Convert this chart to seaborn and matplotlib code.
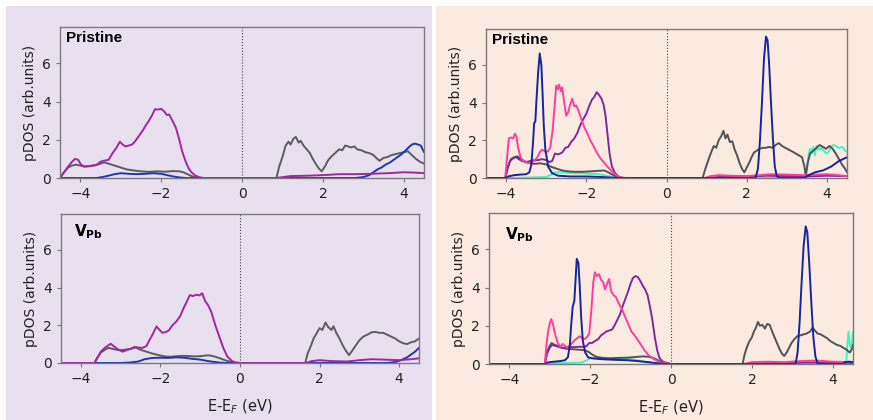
import numpy as np
import matplotlib.pyplot as plt
from matplotlib.patches import Rectangle
import seaborn as sns

# ---- data: (energy eV, pDOS) ----
# left panel, pristine
lt_gray = [(-4.5,0),(-4.4,0.3),(-4.3,0.55),(-4.2,0.65),(-4.1,0.7),(-4.0,0.65),(-3.9,0.6),(-3.75,0.62),(-3.6,0.68),(-3.5,0.75),(-3.4,0.82),(-3.3,0.75),(-3.15,0.65),(-3.0,0.55),(-2.85,0.45),(-2.7,0.4),(-2.5,0.35),(-2.3,0.32),(-2.1,0.35),(-1.9,0.33),(-1.7,0.36),(-1.55,0.35),(-1.45,0.3),(-1.35,0.2),(-1.25,0.1),(-1.15,0.03),(-1.05,0),(0.85,0),(0.92,0.6),(1.0,1.1),(1.08,1.7),(1.15,1.9),(1.2,1.75),(1.27,2.05),(1.33,2.15),(1.4,1.85),(1.45,1.95),(1.52,1.7),(1.6,1.5),(1.68,1.3),(1.75,1.0),(1.82,0.75),(1.9,0.5),(1.97,0.35),(2.05,0.6),(2.12,0.9),(2.2,1.1),(2.3,1.3),(2.4,1.5),(2.48,1.45),(2.55,1.7),(2.62,1.65),(2.7,1.6),(2.78,1.65),(2.85,1.5),(2.95,1.45),(3.05,1.35),(3.15,1.3),(3.25,1.2),(3.32,1.05),(3.4,0.9),(3.5,1.05),(3.6,1.1),(3.7,1.2),(3.8,1.25),(3.9,1.3),(4.0,1.35),(4.1,1.4),(4.2,1.2),(4.3,1.0),(4.4,0.85),(4.5,0.75)]
lt_blue = [(-4.5,0),(-3.6,0),(-3.45,0.05),(-3.3,0.12),(-3.15,0.2),(-3.0,0.25),(-2.8,0.22),(-2.6,0.2),(-2.4,0.22),(-2.2,0.25),(-2.0,0.22),(-1.85,0.15),(-1.7,0.08),(-1.55,0.03),(-1.4,0),(2.8,0),(3.0,0.05),(3.15,0.15),(3.25,0.3),(3.35,0.45),(3.45,0.55),(3.55,0.7),(3.65,0.8),(3.75,0.95),(3.85,1.1),(3.95,1.25),(4.05,1.45),(4.12,1.6),(4.2,1.75),(4.28,1.8),(4.35,1.75),(4.42,1.7),(4.5,1.35)]
lt_magenta = [(-4.5,0),(-4.4,0.3),(-4.3,0.6),(-4.2,0.85),(-4.13,1.0),(-4.05,0.95),(-3.98,0.7),(-3.9,0.6),(-3.8,0.62),(-3.7,0.65),(-3.6,0.68),(-3.5,0.85),(-3.42,0.9),(-3.3,0.95),(-3.2,1.3),(-3.1,1.6),(-3.02,1.9),(-2.95,1.75),(-2.88,1.65),(-2.8,1.7),(-2.72,1.75),(-2.65,1.9),(-2.55,2.2),(-2.45,2.5),(-2.38,2.75),(-2.3,3.0),(-2.22,3.3),(-2.15,3.6),(-2.08,3.58),(-2.0,3.62),(-1.93,3.5),(-1.86,3.3),(-1.8,3.32),(-1.72,3.0),(-1.63,2.6),(-1.55,2.0),(-1.48,1.4),(-1.4,0.9),(-1.32,0.5),(-1.25,0.3),(-1.15,0.12),(-1.05,0.04),(-0.95,0),(0.85,0),(1.2,0.1),(1.6,0.12),(2.0,0.15),(2.4,0.2),(2.8,0.2),(3.2,0.22),(3.6,0.25),(4.0,0.3),(4.3,0.28),(4.5,0.25)]

# left panel, V_Pb
lb_gray = [(-4.5,0),(-3.66,0),(-3.58,0.3),(-3.5,0.55),(-3.4,0.7),(-3.3,0.8),(-3.2,0.75),(-3.05,0.68),(-2.9,0.7),(-2.75,0.75),(-2.62,0.82),(-2.5,0.7),(-2.35,0.6),(-2.2,0.5),(-2.05,0.42),(-1.9,0.35),(-1.75,0.33),(-1.6,0.36),(-1.45,0.38),(-1.3,0.37),(-1.15,0.35),(-1.0,0.36),(-0.85,0.4),(-0.75,0.4),(-0.62,0.33),(-0.5,0.25),(-0.38,0.15),(-0.25,0.07),(-0.12,0.02),(0,0),(1.64,0),(1.7,0.5),(1.78,0.9),(1.85,1.3),(1.92,1.55),(2.0,1.85),(2.07,1.75),(2.15,2.15),(2.22,1.9),(2.3,1.75),(2.35,1.95),(2.42,1.6),(2.5,1.3),(2.58,0.95),(2.66,0.65),(2.74,0.42),(2.82,0.65),(2.9,0.9),(3.0,1.2),(3.1,1.4),(3.2,1.5),(3.3,1.62),(3.4,1.65),(3.5,1.6),(3.6,1.6),(3.7,1.5),(3.8,1.4),(3.9,1.3),(4.0,1.15),(4.1,1.05),(4.2,1.0),(4.3,1.1),(4.4,1.15),(4.5,1.3)]
lb_blue = [(-4.5,0),(-3.0,0),(-2.75,0.03),(-2.55,0.08),(-2.4,0.2),(-2.2,0.27),(-2.0,0.28),(-1.8,0.27),(-1.6,0.3),(-1.4,0.28),(-1.2,0.22),(-1.0,0.18),(-0.85,0.12),(-0.7,0.07),(-0.5,0.02),(-0.35,0),(3.7,0),(3.9,0.05),(4.05,0.15),(4.2,0.3),(4.3,0.45),(4.4,0.6),(4.5,0.8)]
lb_magenta = [(-4.5,0),(-3.66,0),(-3.58,0.3),(-3.5,0.6),(-3.4,0.8),(-3.3,0.95),(-3.25,1.02),(-3.15,0.85),(-3.05,0.7),(-2.95,0.6),(-2.85,0.68),(-2.75,0.75),(-2.65,0.85),(-2.55,0.82),(-2.45,0.8),(-2.35,0.9),(-2.28,1.2),(-2.2,1.5),(-2.1,1.94),(-2.02,1.75),(-1.95,1.6),(-1.85,1.65),(-1.78,1.75),(-1.7,2.0),(-1.6,2.2),(-1.5,2.5),(-1.42,2.9),(-1.35,3.2),(-1.26,3.6),(-1.18,3.55),(-1.1,3.62),(-1.02,3.58),(-0.95,3.7),(-0.88,3.3),(-0.8,3.05),(-0.72,2.7),(-0.62,2.0),(-0.52,1.4),(-0.42,0.8),(-0.32,0.35),(-0.2,0.1),(-0.1,0.02),(0,0),(1.65,0),(1.8,0.1),(2.0,0.15),(2.3,0.1),(2.7,0.08),(3.0,0.15),(3.3,0.2),(3.6,0.18),(4.0,0.15),(4.3,0.2),(4.5,0.25)]

# right panel, pristine
rt_cyan = [(-4.5,0),(-3.9,0),(-3.5,0.02),(-3.0,0.05),(-2.9,0.15),(-2.8,0.3),(-2.65,0.3),(-2.5,0.28),(-2.3,0.25),(-2.1,0.25),(-1.9,0.22),(-1.7,0.2),(-1.55,0.15),(-1.4,0.07),(-1.25,0.02),(-1.1,0),(3.45,0),(3.5,0.4),(3.54,1.2),(3.58,1.55),(3.62,1.3),(3.66,1.65),(3.7,1.2),(3.74,1.7),(3.8,1.5),(3.86,1.6),(3.92,1.45),(3.98,1.3),(4.04,1.4),(4.1,1.65),(4.16,1.75),(4.22,1.7),(4.3,1.6),(4.38,1.65),(4.45,1.45),(4.5,1.4)]
rt_gray = [(-4.5,0),(-4.02,0),(-3.95,0.6),(-3.88,1.0),(-3.8,1.1),(-3.72,1.15),(-3.65,1.05),(-3.55,0.9),(-3.45,0.8),(-3.3,0.75),(-3.15,0.78),(-3.0,0.72),(-2.88,0.6),(-2.75,0.5),(-2.6,0.4),(-2.45,0.35),(-2.3,0.33),(-2.1,0.33),(-1.9,0.35),(-1.7,0.38),(-1.55,0.4),(-1.45,0.3),(-1.35,0.18),(-1.25,0.08),(-1.15,0.02),(-1.05,0),(0.9,0),(0.97,0.5),(1.05,1.0),(1.12,1.4),(1.18,1.7),(1.24,1.6),(1.3,2.0),(1.36,2.2),(1.42,2.5),(1.47,2.1),(1.52,2.3),(1.58,1.9),(1.64,1.95),(1.7,1.5),(1.76,1.2),(1.82,0.8),(1.88,0.5),(1.94,0.3),(2.0,0.55),(2.06,0.8),(2.12,1.1),(2.18,1.35),(2.25,1.45),(2.32,1.55),(2.4,1.6),(2.48,1.6),(2.56,1.65),(2.64,1.6),(2.72,1.75),(2.8,1.85),(2.88,1.7),(2.96,1.6),(3.05,1.5),(3.14,1.4),(3.22,1.3),(3.3,1.2),(3.38,1.1),(3.44,0.6),(3.47,0.1),(3.52,0.8),(3.58,1.3),(3.66,1.45),(3.74,1.6),(3.82,1.75),(3.9,1.65),(3.98,1.55),(4.06,1.7),(4.14,1.55),(4.22,1.3),(4.3,1.0),(4.38,0.7),(4.45,0.5),(4.5,0.3)]
rt_purple = [(-4.5,0),(-4.02,0),(-3.97,0.5),(-3.9,0.9),(-3.82,1.05),(-3.75,1.1),(-3.68,1.0),(-3.6,0.9),(-3.5,0.85),(-3.4,0.9),(-3.3,0.95),(-3.2,0.95),(-3.1,1.0),(-3.0,0.95),(-2.92,0.85),(-2.85,0.9),(-2.78,1.3),(-2.7,1.25),(-2.6,1.35),(-2.52,1.6),(-2.45,1.65),(-2.38,1.9),(-2.3,2.1),(-2.22,2.4),(-2.15,2.8),(-2.08,3.1),(-2.0,3.4),(-1.93,3.8),(-1.86,4.15),(-1.8,4.3),(-1.74,4.55),(-1.68,4.4),(-1.62,4.2),(-1.57,3.9),(-1.52,3.3),(-1.47,2.3),(-1.42,1.3),(-1.36,0.6),(-1.28,0.25),(-1.2,0.08),(-1.1,0),(0.95,0),(1.3,0.05),(2.0,0.08),(2.5,0.12),(3.0,0.1),(3.5,0.08),(4.0,0.12),(4.5,0.1)]
rt_pink = [(-4.5,0),(-4.02,0),(-3.97,1.2),(-3.93,2.1),(-3.87,2.15),(-3.82,2.1),(-3.78,2.35),(-3.74,2.2),(-3.7,1.6),(-3.65,1.2),(-3.6,0.95),(-3.52,0.85),(-3.45,0.8),(-3.38,0.82),(-3.3,0.9),(-3.22,1.1),(-3.15,1.4),(-3.1,1.5),(-3.03,1.4),(-2.96,1.4),(-2.9,1.6),(-2.84,2.5),(-2.79,3.8),(-2.75,4.9),(-2.71,4.7),(-2.68,4.95),(-2.63,4.6),(-2.6,4.8),(-2.55,4.0),(-2.5,3.3),(-2.45,3.5),(-2.4,3.9),(-2.35,4.2),(-2.3,3.8),(-2.25,3.85),(-2.2,3.6),(-2.12,3.1),(-2.05,2.7),(-1.98,2.4),(-1.9,2.0),(-1.82,1.7),(-1.74,1.35),(-1.65,1.05),(-1.55,0.8),(-1.45,0.55),(-1.36,0.35),(-1.28,0.18),(-1.2,0.08),(-1.1,0.02),(-1.0,0),(0.95,0),(1.1,0.1),(1.3,0.15),(1.6,0.12),(2.0,0.1),(2.3,0.15),(2.6,0.2),(3.0,0.18),(3.4,0.15),(3.7,0.18),(4.0,0.2),(4.3,0.15),(4.5,0.1)]
rt_blue = [(-4.5,0),(-4.02,0),(-3.95,0.08),(-3.8,0.15),(-3.65,0.18),(-3.5,0.2),(-3.42,0.3),(-3.37,0.7),(-3.33,1.8),(-3.3,2.9),(-3.27,3.0),(-3.24,4.2),(-3.2,5.6),(-3.16,6.6),(-3.12,6.0),(-3.09,4.5),(-3.06,2.8),(-3.02,1.5),(-2.95,0.6),(-2.85,0.25),(-2.7,0.12),(-2.4,0.08),(-2.0,0.08),(-1.6,0.05),(-1.3,0.01),(-1.1,0),(2.22,0),(2.28,0.5),(2.33,2.0),(2.38,4.0),(2.43,6.3),(2.48,7.5),(2.52,7.3),(2.56,6.0),(2.6,4.2),(2.65,2.2),(2.7,0.6),(2.75,0.1),(2.82,0),(3.45,0),(3.5,0.1),(3.6,0.2),(3.7,0.3),(3.8,0.35),(3.9,0.4),(4.0,0.5),(4.1,0.6),(4.2,0.75),(4.3,0.9),(4.4,1.0),(4.5,1.1)]

# right panel, V_Pb
rb_cyan = [(-4.5,0),(-3.1,0),(-3.0,0.05),(-2.6,0.05),(-2.2,0.08),(-2.08,0.2),(-2.0,0.3),(-1.8,0.28),(-1.6,0.25),(-1.4,0.28),(-1.2,0.3),(-1.0,0.25),(-0.8,0.18),(-0.6,0.1),(-0.4,0.04),(-0.2,0),(4.33,0),(4.36,1.0),(4.39,1.7),(4.42,1.0),(4.46,0.8),(4.5,1.7)]
rb_gray = [(-4.5,0),(-3.12,0),(-3.07,0.6),(-3.0,0.95),(-2.95,1.1),(-2.88,1.0),(-2.8,0.95),(-2.7,0.85),(-2.6,0.8),(-2.45,0.78),(-2.3,0.75),(-2.15,0.72),(-2.05,0.65),(-1.95,0.5),(-1.85,0.38),(-1.7,0.32),(-1.5,0.3),(-1.3,0.32),(-1.1,0.33),(-0.9,0.36),(-0.7,0.4),(-0.55,0.38),(-0.42,0.3),(-0.3,0.17),(-0.2,0.08),(-0.1,0.02),(0,0),(1.77,0),(1.82,0.5),(1.88,0.9),(1.94,1.2),(2.0,1.4),(2.05,1.7),(2.1,1.9),(2.15,2.2),(2.2,2.0),(2.26,2.05),(2.32,1.85),(2.38,2.1),(2.44,2.05),(2.5,1.7),(2.56,1.4),(2.62,1.1),(2.68,0.8),(2.74,0.55),(2.8,0.42),(2.86,0.6),(2.92,0.85),(2.98,1.1),(3.05,1.3),(3.12,1.45),(3.2,1.5),(3.28,1.55),(3.36,1.6),(3.44,1.7),(3.5,1.9),(3.56,1.75),(3.62,1.6),(3.7,1.55),(3.78,1.45),(3.86,1.35),(3.94,1.2),(4.02,1.1),(4.1,1.0),(4.18,0.95),(4.26,0.85),(4.34,0.75),(4.42,0.6),(4.48,0.8),(4.5,1.0)]
rb_purple = [(-4.5,0),(-3.12,0),(-3.07,0.5),(-3.0,0.85),(-2.94,1.0),(-2.86,0.95),(-2.78,0.9),(-2.7,0.85),(-2.6,0.85),(-2.5,0.9),(-2.4,0.88),(-2.3,0.9),(-2.2,0.9),(-2.1,0.92),(-2.02,1.1),(-1.95,1.1),(-1.88,1.2),(-1.8,1.3),(-1.73,1.5),(-1.66,1.6),(-1.6,1.7),(-1.53,1.75),(-1.46,1.8),(-1.4,2.0),(-1.33,2.3),(-1.26,2.6),(-1.2,3.0),(-1.13,3.4),(-1.06,3.8),(-1.0,4.2),(-0.94,4.5),(-0.88,4.6),(-0.82,4.55),(-0.76,4.35),(-0.7,4.1),(-0.64,3.9),(-0.58,3.6),(-0.52,3.0),(-0.46,2.3),(-0.4,1.4),(-0.34,0.7),(-0.28,0.3),(-0.2,0.12),(-0.1,0.05),(0,0),(1.8,0),(2.5,0.05),(3.5,0.08),(4.5,0.05)]
rb_pink = [(-4.5,0),(-3.12,0),(-3.08,1.0),(-3.04,1.7),(-3.0,2.1),(-2.96,2.35),(-2.92,2.1),(-2.87,1.6),(-2.8,1.1),(-2.74,0.9),(-2.68,1.05),(-2.62,0.95),(-2.56,0.85),(-2.5,1.0),(-2.44,1.1),(-2.38,1.25),(-2.32,1.35),(-2.26,1.45),(-2.2,1.35),(-2.14,1.3),(-2.08,1.4),(-2.02,1.6),(-1.97,2.8),(-1.92,4.3),(-1.88,4.8),(-1.84,4.6),(-1.78,4.7),(-1.73,4.4),(-1.68,4.3),(-1.63,3.9),(-1.58,4.2),(-1.53,4.45),(-1.48,3.8),(-1.42,3.6),(-1.36,3.5),(-1.3,3.2),(-1.22,2.9),(-1.14,2.5),(-1.06,2.1),(-0.98,1.7),(-0.9,1.5),(-0.82,1.25),(-0.74,1.0),(-0.65,0.7),(-0.55,0.45),(-0.45,0.3),(-0.35,0.17),(-0.25,0.08),(-0.12,0.03),(0,0),(1.8,0),(2.0,0.1),(2.4,0.12),(2.8,0.1),(3.2,0.15),(3.6,0.18),(4.0,0.12),(4.5,0.1)]
rb_blue = [(-4.5,0),(-3.12,0),(-3.05,0.08),(-2.9,0.12),(-2.75,0.15),(-2.62,0.2),(-2.55,0.35),(-2.5,1.0),(-2.47,2.0),(-2.43,3.0),(-2.39,3.3),(-2.36,4.4),(-2.33,5.5),(-2.29,5.3),(-2.26,4.2),(-2.22,2.4),(-2.18,1.2),(-2.12,0.6),(-2.05,0.35),(-1.95,0.3),(-1.7,0.25),(-1.4,0.22),(-1.1,0.2),(-0.8,0.15),(-0.5,0.08),(-0.3,0.03),(-0.15,0),(3.08,0),(3.13,0.6),(3.18,2.2),(3.23,4.3),(3.28,6.2),(3.33,7.2),(3.37,6.9),(3.42,5.2),(3.47,3.2),(3.52,1.4),(3.57,0.4),(3.62,0.05),(3.7,0),(4.25,0),(4.3,0.1),(4.4,0.12),(4.5,0.1)]

panel_titles = ['Pristine', r'$\mathbf{V_{Pb}}$']
x_ticks = [-4, -2, 0, 2, 4]
y_ticks = [0, 2, 4, 6]

C_GRAY_L = '#5c5c5c'
C_GRAY_R = '#4f545a'
C_BLUE_L = '#1f36b0'
C_BLUE_R = '#15259a'
C_MAGENTA = '#a0279e'
C_PURPLE = '#7e2a9c'
C_PINK = '#ff3d9c'
C_CYAN = '#3ef3c2'

sns.set_style('ticks')
plt.rcParams['font.family'] = ['DejaVu Sans']
plt.rcParams['mathtext.fontset'] = 'dejavusans'

fig = plt.figure(figsize=(8.73, 4.2), dpi=100, facecolor='white')
W, H = 873.0, 420.0
fig.patches.append(Rectangle((6 / W, 0), 426 / W, 414 / H, transform=fig.transFigure,
                             facecolor='#e8e0ef', edgecolor='none', zorder=-10))
fig.patches.append(Rectangle((436 / W, 0), 437 / W, 414 / H, transform=fig.transFigure,
                             facecolor='#fbeadf', edgecolor='none', zorder=-10))


def px_axes(x0, y0, x1, y1):
    return fig.add_axes([x0 / W, 1 - y1 / H, (x1 - x0) / W, (y1 - y0) / H])


axes = {
    'lt': px_axes(60, 27, 424, 178),
    'lb': px_axes(61, 214, 419, 363),
    'rt': px_axes(486, 29, 847, 178),
    'rb': px_axes(489, 213, 853, 364),
}

curves = {
    'lt': [(lt_gray, C_GRAY_L), (lt_blue, C_BLUE_L), (lt_magenta, C_MAGENTA)],
    'lb': [(lb_gray, C_GRAY_L), (lb_blue, C_BLUE_L), (lb_magenta, C_MAGENTA)],
    'rt': [(rt_cyan, C_CYAN), (rt_gray, C_GRAY_R), (rt_purple, C_PURPLE), (rt_pink, C_PINK), (rt_blue, C_BLUE_R)],
    'rb': [(rb_cyan, C_CYAN), (rb_gray, C_GRAY_R), (rb_purple, C_PURPLE), (rb_pink, C_PINK), (rb_blue, C_BLUE_R)],
}

title_pos = {'lt': (0.017, 0.93), 'lb': (0.035, 0.88), 'rt': (0.017, 0.925), 'rb': (0.045, 0.855)}

for key, ax in axes.items():
    ax.set_facecolor('none')
    ax.set_zorder(1)
    for pts, col in curves[key]:
        xs, ys = zip(*pts)
        sns.lineplot(x=list(xs), y=list(ys), color=col, lw=1.4, ax=ax,
                     estimator=None, sort=False)
    ax.axvline(0, color='#444444', ls=':', lw=0.8)
    ax.set_xlim(-4.5, 4.5)
    ax.set_ylim(0, 7.9)
    ax.set_xticks(x_ticks)
    ax.set_yticks(y_ticks)
    ax.tick_params(labelsize=10, colors='#222222', length=3, width=0.8)
    ax.tick_params(color='#777777')
    for sp in ax.spines.values():
        sp.set_visible(True)
        sp.set_color('#7a7a7a')
        sp.set_linewidth(1.0)
    ax.set_ylabel('pDOS (arb.units)', fontsize=10, color='#222222', labelpad=4)
    title = panel_titles[0] if key.endswith('t') else panel_titles[1]
    ax.text(*title_pos[key], title, transform=ax.transAxes, fontsize=11,
            fontweight='bold', family=['Liberation Sans', 'DejaVu Sans'],
            ha='left', va='center', color='black')
    if key.endswith('b'):
        ax.set_xlabel('E-E$_F$ (eV)', fontsize=10.5, color='#222222', labelpad=8)

fig.savefig('out.png', dpi=100, facecolor='white')
